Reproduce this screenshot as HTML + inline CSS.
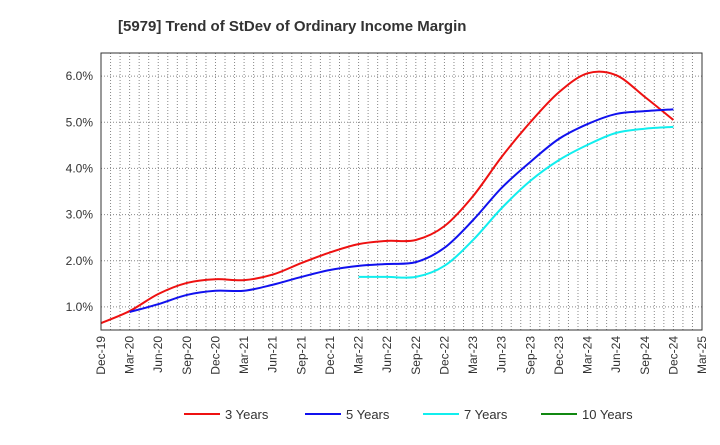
<!DOCTYPE html>
<html><head><meta charset="utf-8"><style>
body{margin:0;background:#fff;font-family:"Liberation Sans",sans-serif;}
</style></head><body>
<svg id="chart" width="720" height="440" xmlns="http://www.w3.org/2000/svg" font-family="Liberation Sans, sans-serif">
<text x="118" y="31" font-size="15" font-weight="bold" fill="#333">[5979]  Trend of StDev of Ordinary Income Margin</text>
<g id="grid"></g><g id="series"></g><g id="axes"></g><g id="legend"></g>
</svg>
<script>
const xLabels=["Dec-19","Mar-20","Jun-20","Sep-20","Dec-20","Mar-21","Jun-21","Sep-21","Dec-21","Mar-22","Jun-22","Sep-22","Dec-22","Mar-23","Jun-23","Sep-23","Dec-23","Mar-24","Jun-24","Sep-24","Dec-24","Mar-25"];
const yTicks=[1,2,3,4,5,6];
const s3=[0.65,0.91,1.28,1.52,1.60,1.58,1.70,1.95,2.18,2.36,2.43,2.45,2.75,3.40,4.25,5.00,5.65,6.06,6.02,5.55,5.05];
const s5=[null,0.89,1.06,1.26,1.35,1.35,1.48,1.65,1.80,1.89,1.93,1.97,2.28,2.88,3.58,4.14,4.64,4.96,5.18,5.24,5.28];
const s7=[null,null,null,null,null,null,null,null,null,1.65,1.65,1.65,1.89,2.45,3.14,3.73,4.18,4.51,4.77,4.86,4.90];
const s10=[];
const NS="http://www.w3.org/2000/svg";
const L=101,R=702,T=53,B=330,yMin=0.5,yMax=6.5;
const xs=i=>L+(R-L)*i/(xLabels.length-1);
const ys=v=>B-(v-yMin)/(yMax-yMin)*(B-T);
function mk(p,tag,a){const e=document.createElementNS(NS,tag);for(const k in a)e.setAttribute(k,a[k]);p.appendChild(e);return e;}
const grid=document.getElementById('grid'),axes=document.getElementById('axes'),ser=document.getElementById('series'),leg=document.getElementById('legend');
for(let m=1;m<(xLabels.length-1)*3;m++){const x=L+(R-L)*m/((xLabels.length-1)*3);mk(grid,'line',{x1:x,x2:x,y1:T,y2:B,stroke:'#888','stroke-dasharray':'1,2','stroke-width':1});}
yTicks.forEach(v=>{const y=ys(v);mk(grid,'line',{x1:L,x2:R,y1:y,y2:y,stroke:'#888','stroke-dasharray':'1,2'});
const t=mk(axes,'text',{x:L-8,y:y+4,'text-anchor':'end','font-size':12,fill:'#333'});t.textContent=v.toFixed(1)+'%';

});
const fr=mk(axes,'rect',{x:L,y:T,width:R-L,height:B-T,fill:'none',stroke:'#333'});


xLabels.forEach((l,i)=>{const x=xs(i);const t=mk(axes,'text',{transform:`translate(${x+4},${B+6}) rotate(-90)`,'text-anchor':'end','font-size':12,fill:'#333'});t.textContent=l;

});
function path(data){const p=[];data.forEach((v,i)=>{if(v!=null)p.push([xs(i),ys(v)]);});if(p.length<2)return '';
let d=`M${p[0][0]},${p[0][1]}`;for(let i=0;i<p.length-1;i++){const p0=p[i-1]||p[i],p1=p[i],p2=p[i+1],p3=p[i+2]||p2;
d+=` C${p1[0]+(p2[0]-p0[0])/6},${p1[1]+(p2[1]-p0[1])/6} ${p2[0]-(p3[0]-p1[0])/6},${p2[1]-(p3[1]-p1[1])/6} ${p2[0]},${p2[1]}`;}return d;}
const series=[["3 Years",s3,"#ee1111"],["5 Years",s5,"#1111ee"],["7 Years",s7,"#11eeee"],["10 Years",s10,"#118811"]];
series.forEach(([n,d,c],k)=>{const pd=path(d);if(pd){const e=mk(ser,'path',{d:pd,fill:'none',stroke:c,'stroke-width':2});

}
const lx=[184,305,423,541][k];
const g=mk(leg,'g',{});


mk(g,'line',{x1:lx,x2:lx+36,y1:414,y2:414,stroke:c,'stroke-width':2});
const t=mk(g,'text',{x:lx+41,y:419,'font-size':13,fill:'#333'});t.textContent=n;});
</script>
</body></html>
